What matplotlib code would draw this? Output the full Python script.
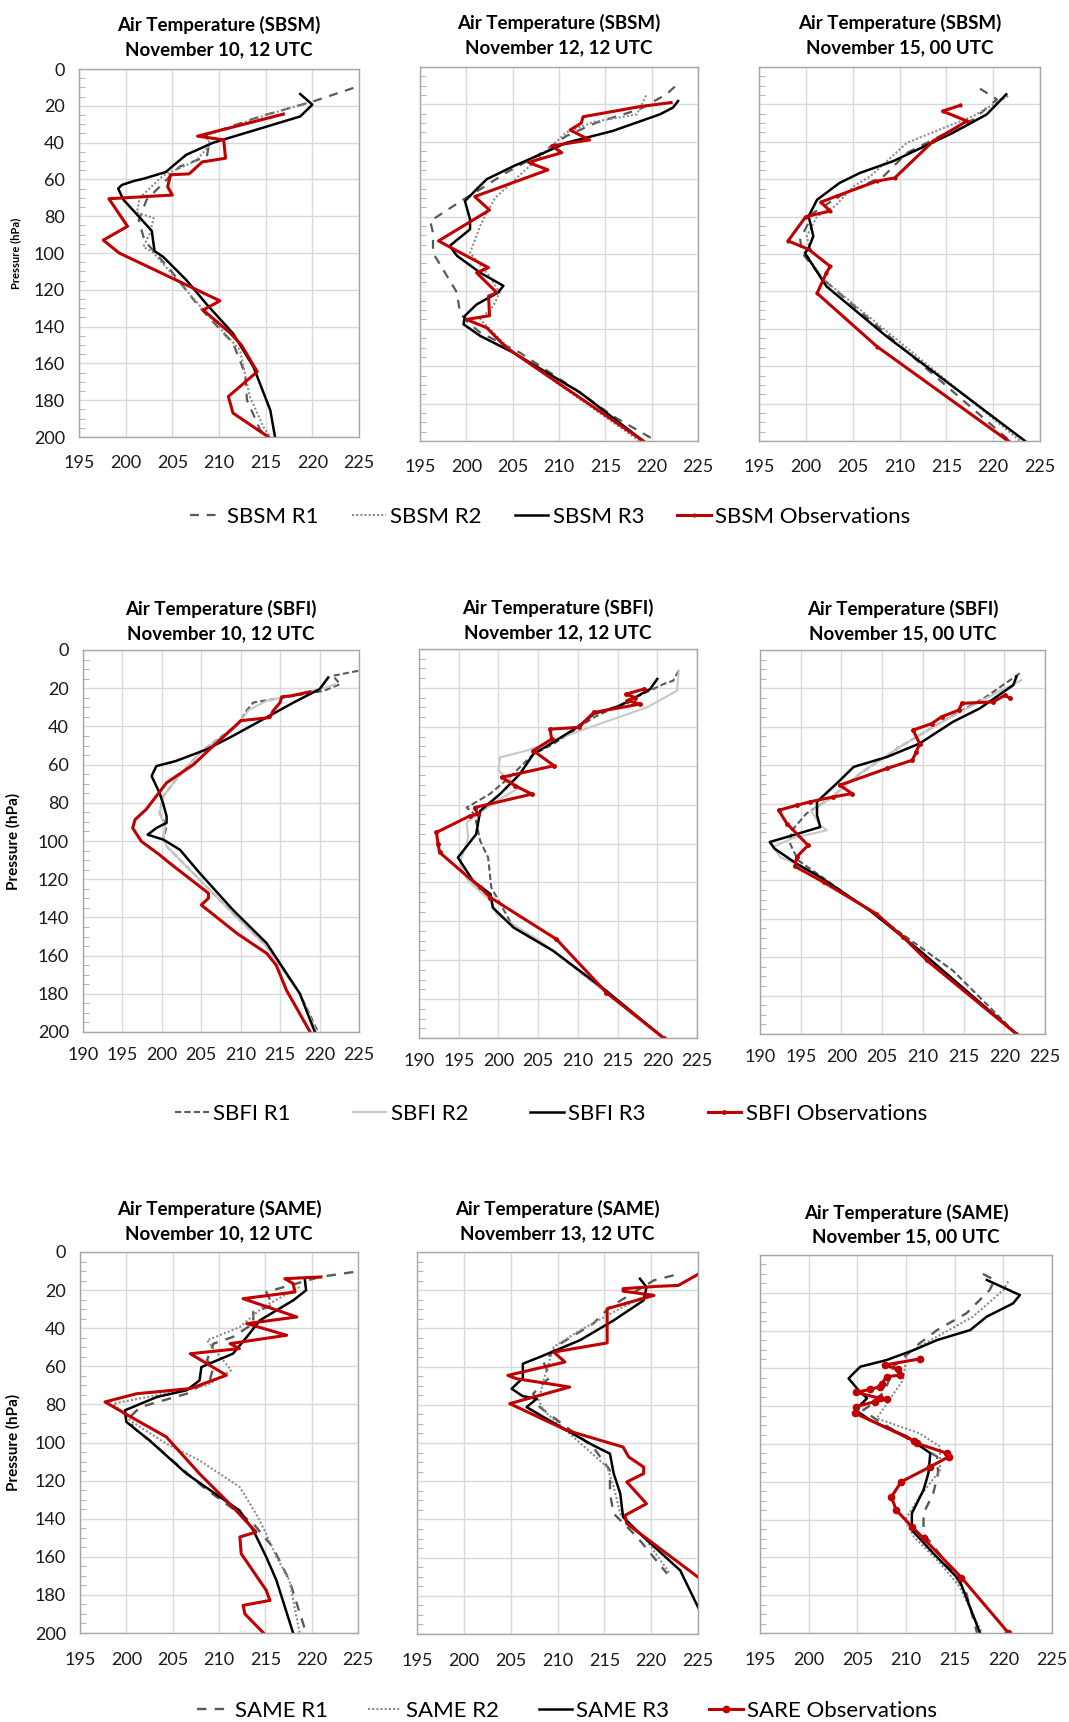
import matplotlib.pyplot as plt
from matplotlib.ticker import MultipleLocator

plt.rcParams['font.family'] = ['Lato', 'DejaVu Sans']

# ---------------- SBSM, November 10, 12 UTC ----------------
sbsm10_r1_t = [224.4, 220.1, 214.4, 208.7, 208.9, 208.7, 205.8, 203.3, 202.25, 201.4, 202.0, 203.0, 204.75, 208.0, 211.5, 212.8, 213.0, 214.4, 215.1]
sbsm10_r1_p = [10.3, 17.6, 25.8, 35.7, 42, 47.5, 53, 65.7, 71, 82, 93, 99, 109, 130, 149, 165.5, 180, 196, 200]
sbsm10_r2_t = [219.4, 215.1, 209.0, 208.9, 207.5, 204.0, 201.5, 201.2, 203.0, 202.6, 201.9, 203.0, 208.0, 212.25, 213.3, 214.75, 215.5]
sbsm10_r2_p = [18.5, 24.9, 35.5, 42, 50, 58, 70, 78, 81, 89.3, 96.6, 100, 129, 152.8, 178, 194.5, 200]
sbsm10_r3_t = [218.7, 220.0, 218.7, 209.4, 206.5, 205.5, 204.3, 202.0, 200.8, 199.6, 199.2, 199.75, 201.2, 202.8, 203.0, 203.1, 204.0, 206.5, 208.7, 211.5, 213.7, 215.5, 216.0]
sbsm10_r3_p = [13.6, 19.4, 25.8, 40, 46.6, 50.8, 56, 59.5, 61, 63, 65, 71, 79, 88, 95.6, 99, 102, 114.7, 128, 143.7, 162, 185.5, 200]
sbsm10_obs_t = [216.9, 207.7, 210.5, 210.7, 208.2, 206.8, 204.8, 204.5, 205.0, 198.2, 200.2, 197.6, 199.3, 210.1, 208.3, 211.2, 212.4, 214.1, 211.0, 211.5, 215.3]
sbsm10_obs_p = [24.5, 36.5, 38.5, 48.5, 50.5, 57, 57.5, 64, 68.5, 70.5, 85.5, 93, 100, 126, 131, 143.5, 150, 164.5, 178, 187, 200]

# ---------------- SBSM, November 12, 12 UTC ----------------
sbsm12_r1_t = [222.5, 221.6, 218.7, 214.0, 210.8, 207.6, 204.3, 201.5, 199.7, 196.1, 196.4, 196.4, 196.6, 199.0, 199.3, 200.2, 201.5, 205.8, 212.25, 215.8, 220.5]
sbsm12_r1_p = [10.5, 14.6, 22.6, 29.8, 36.9, 47.6, 56.5, 65.4, 70.8, 82.4, 88.6, 99.3, 101, 120.7, 131.4, 136.7, 142, 152.8, 174, 186.6, 200]
sbsm12_r2_t = [219.4, 218.4, 213.7, 210.8, 207.6, 203.1, 202.2, 201.5, 200.4, 202.5, 203.6, 202.9, 201.5, 205.1, 218.7]
sbsm12_r2_p = [15.2, 25.3, 29.4, 35, 49.4, 70, 78, 85, 99.3, 111.8, 120.7, 127.8, 135, 152.8, 200]
sbsm12_r3_t = [222.85, 222.3, 220.9, 215.8, 210.8, 207.6, 205.1, 202.2, 201.1, 199.85, 200.4, 200.4, 198.2, 199.0, 201.5, 204.0, 203.4, 201.1, 199.85, 199.7, 201.5, 205.1, 212.25, 219.1]
sbsm12_r3_p = [18.2, 21.7, 25.3, 34.2, 40.5, 47.6, 53, 60, 65.4, 71.7, 81.5, 86.8, 95.7, 101, 110, 117, 120.7, 127, 133, 137.6, 143.8, 152.8, 174, 200]
sbsm12_obs_t = [222.1, 218.7, 212.6, 212.4, 211.2, 213.3, 209.2, 210.3, 206.7, 208.8, 200.9, 202.5, 197.0, 198.0, 202.4, 201.1, 203.3, 202.4, 202.5, 200.0, 202.2, 204.3, 219.1]
sbsm12_obs_p = [19, 21.2, 26.6, 30, 33.7, 39, 42.2, 45.8, 51, 55, 69.3, 76.5, 93, 95.7, 107.3, 110, 120.7, 122.5, 133, 135, 139.4, 150, 200]

# ---------------- SBSM, November 15, 00 UTC ----------------
sbsm15_r1_t = [218.6, 220.4, 217.9, 210.8, 208.3, 203.6, 200.8, 199.4, 199.6, 201.9, 221.8]
sbsm15_r1_p = [11.6, 17.3, 28, 45.9, 58.4, 69, 78, 92.3, 99.5, 113.7, 200]
sbsm15_r2_t = [221.6, 217.9, 210.8, 206.9, 205.1, 203.1, 201.2, 200.1, 200.4, 199.9, 201.9, 222.9]
sbsm15_r2_p = [15.5, 26.2, 40.5, 58.4, 63.8, 74.5, 79.8, 90.5, 96.8, 99.5, 113.7, 200]
sbsm15_r3_t = [221.4, 219.3, 215.7, 209.3, 205.8, 203.6, 201.2, 200.3, 200.8, 200.3, 199.9, 202.2, 208.6, 223.4]
sbsm15_r3_p = [14.6, 25.4, 35.2, 50.4, 56.6, 62, 71, 79.8, 90.5, 96.8, 99.5, 117.3, 144, 200]
sbsm15_obs_t = [216.5, 214.6, 217.2, 213.6, 209.5, 207.6, 203.3, 201.6, 202.6, 200.0, 198.1, 200.3, 202.6, 202.2, 201.2, 207.6, 221.6]
sbsm15_obs_p = [20.5, 23.6, 28.9, 39.6, 59.3, 61, 69, 72.3, 77, 80, 93, 97.5, 106.6, 110, 121, 149.5, 200]

# ---------------- SBFI, November 10, 12 UTC ----------------
sbfi10_r1_t = [224.9, 221.7, 222.6, 220.5, 211.6, 210.7, 209.9, 204.8, 201.8, 200.2, 199.7, 200.6, 200.2, 200.6, 204.8, 209.0, 213.3, 217.5, 219.8]
sbfi10_r1_p = [10.9, 13.5, 17.9, 21.4, 27.5, 31.9, 38, 53.8, 67.8, 76.5, 85.3, 92.3, 98.4, 102.8, 120.3, 137.8, 155.3, 179.9, 200]
sbfi10_r2_t = [222.0, 220.0, 213.3, 211.0, 209.5, 204.8, 201.8, 200.2, 199.7, 200.4, 200.2, 200.6, 204.8, 209.0, 213.3, 217.5, 219.6]
sbfi10_r2_p = [18, 20.5, 26.6, 31.5, 39.8, 53.8, 67.8, 76.5, 85.3, 92.3, 98.4, 102.8, 120.3, 137.8, 155.3, 179.9, 200]
sbfi10_r3_t = [221.1, 220.0, 216.7, 209.0, 205.7, 201.8, 199.3, 198.7, 199.7, 200.2, 200.6, 200.6, 199.3, 198.2, 200.2, 202.3, 204.8, 209.0, 213.3, 217.5, 219.4]
sbfi10_r3_p = [14.4, 20.5, 27.5, 45, 52, 58.1, 60.8, 66, 74.8, 80.9, 87, 90.5, 93.2, 96.7, 99.3, 104.6, 116.8, 136, 153.6, 179.9, 200]
sbfi10_obs_t = [218.8, 216.4, 215.2, 215.0, 214.1, 213.7, 211.6, 210.0, 209.0, 206.5, 204.0, 200.6, 198.0, 196.6, 196.3, 197.4, 199.7, 201.0, 205.9, 205.9, 205.0, 209.5, 211.4, 213.3, 214.5, 215.8, 218.8]
sbfi10_obs_p = [21.9, 24, 24.5, 27.5, 31.9, 35.4, 36.3, 37, 41, 50.3, 60, 69.5, 83.5, 88.8, 93.2, 100.2, 107.2, 111.6, 127.3, 130, 133.5, 148.3, 153.6, 158.8, 165, 178.1, 200]

# ---------------- SBFI, November 12, 12 UTC ----------------
sbfi12_r1_t = [222.7, 222.0, 220.8, 212.0, 206.9, 204.4, 201.4, 198.9, 196.0, 197.0, 197.7, 198.7, 199.1, 201.9, 206.9, 220.8]
sbfi12_r1_p = [11.1, 16.3, 18, 35.2, 48.9, 54, 66, 74.6, 81.5, 85, 98.6, 107.2, 122.6, 143.2, 155.2, 200]
sbfi12_r2_t = [222.7, 222.5, 218.7, 210.3, 203.5, 200.2, 200.0, 202.7, 199.8, 196.0, 196.2, 195.1, 196.2, 199.0, 199.8, 205.2, 206.9, 220.8]
sbfi12_r2_p = [11.1, 21.4, 30, 42, 52.3, 55.7, 62.6, 71.2, 78, 89.2, 96.9, 110.6, 119.2, 129.5, 136.4, 150, 155.2, 200]
sbfi12_r3_t = [220.0, 219.1, 215.3, 212.0, 209.9, 206.5, 204.4, 202.7, 200.2, 197.7, 197.2, 194.9, 196.8, 199.0, 199.3, 201.9, 206.9, 213.6, 220.8]
sbfi12_r3_p = [15.4, 20.6, 29.2, 33.4, 40.3, 48.9, 54, 64.3, 74.6, 83.2, 95.2, 107.2, 119.2, 126, 133, 143.2, 155.2, 175.8, 200]
sbfi12_obs_t = [218.3, 216.1, 217.2, 216.2, 217.85, 212.0, 210.1, 206.5, 206.7, 204.4, 207.0, 200.4, 202.1, 204.2, 197.0, 197.4, 196.4, 192.2, 192.4, 192.6, 197.7, 199.0, 207.3, 213.6, 220.8]
sbfi12_obs_p = [20.6, 23.2, 25.0, 26.5, 28.3, 32.6, 40.3, 41.2, 46.3, 52.3, 60, 66, 70.3, 74.6, 81.5, 85, 85.8, 94.3, 100.3, 104.6, 122.6, 127.8, 149.2, 176.7, 200]

# ---------------- SBFI, November 15, 00 UTC ----------------
sbfi15_r1_t = [221.9, 217.8, 211.3, 207.2, 202.3, 198.6, 195.7, 193.9, 193.7, 194.7, 202.3, 213.7, 221.5]
sbfi15_r1_p = [12.2, 24.3, 40, 50.4, 64.3, 77.4, 85.2, 94, 100.9, 109.6, 132.2, 167, 200]
sbfi15_r2_t = [222.1, 217.8, 211.3, 207.2, 202.3, 198.6, 196.3, 197.4, 198.2, 194.0, 191.6, 192.5, 194.5, 197.4, 203.5, 209.6, 221.5]
sbfi15_r2_p = [15.7, 25, 40, 50.4, 64.3, 77.4, 84, 91.3, 93.9, 98, 102.6, 108, 111.3, 118.3, 135.7, 156.5, 200]
sbfi15_r3_t = [221.5, 221.1, 217.0, 213.7, 209.6, 205.6, 201.5, 199.4, 197.0, 197.0, 197.4, 193.3, 191.2, 191.8, 194.5, 197.4, 203.5, 209.6, 221.5]
sbfi15_r3_p = [13.9, 18.3, 30.4, 37.4, 48.7, 55.7, 60.9, 69.6, 79, 86, 92.2, 97.4, 100, 103.5, 111.3, 118.3, 135.7, 156.5, 200]
sbfi15_obs_t = [220.7, 220.1, 218.65, 214.8, 214.4, 212.3, 211.1, 208.8, 209.6, 209.2, 208.7, 205.6, 199.8, 201.3, 199.0, 196.1, 194.5, 192.3, 193.3, 195.9, 194.5, 194.3, 197.8, 204.3, 207.6, 210.5, 221.5]
sbfi15_obs_p = [25.2, 23.5, 27, 27.8, 31.3, 34.8, 38.3, 41.7, 48.7, 53, 57.4, 61.7, 70.4, 74.8, 76.5, 79.1, 80.9, 83.5, 90.4, 101.7, 107.8, 112.7, 120.9, 137.4, 149.6, 161.7, 200]

# ---------------- SAME, November 10, 12 UTC ----------------
same10_r1_t = [224.5, 220.9, 215.1, 215.8, 213.7, 213.7, 211.5, 209.4, 208.7, 209.4, 209.0, 206.5, 201.5, 200.4, 200.7, 202.5, 205.8, 208.3, 213.7, 215.8, 217.6, 219.4]
same10_r1_p = [10.5, 13.1, 21, 28, 31.5, 37.6, 44.6, 48.1, 56.9, 60.4, 67.4, 74.4, 81.4, 86.6, 91.9, 98.9, 112.9, 123.4, 142.6, 154.9, 172.4, 200]
same10_r2_t = [218.7, 214.75, 212.25, 208.7, 211.3, 208.7, 198.6, 200.4, 204.3, 207.9, 212.25, 214.0, 215.1, 216.2, 217.6, 218.7]
same10_r2_p = [18.4, 28.9, 39.4, 46.4, 62, 70, 79.6, 88.4, 100.6, 109.4, 123.4, 137.4, 147.9, 160.1, 172.4, 200]
same10_r3_t = [219.25, 219.4, 218.0, 214.4, 213.0, 211.5, 209.4, 208.1, 207.9, 206.5, 203.3, 199.85, 200.0, 202.5, 206.5, 210.1, 212.2, 213.7, 215.1, 216.2, 218.0]
same10_r3_p = [14, 20.1, 25.4, 35.9, 44.6, 53.4, 57.7, 60.4, 67.4, 72.6, 76.1, 83.1, 89.2, 98.9, 116.4, 128.6, 135.6, 146.1, 160.1, 172.4, 200]
same10_obs_t = [221.0, 217.1, 218.0, 218.2, 212.6, 218.4, 213.0, 217.3, 211.2, 212.2, 206.9, 210.8, 206.9, 201.1, 197.7, 201.0, 204.3, 207.9, 211.5, 214.0, 212.25, 212.4, 215.1, 215.5, 212.6, 212.8, 214.8]
same10_obs_p = [13.1, 14, 16.6, 21, 24.5, 34.1, 37.6, 43.7, 48.1, 50.7, 53.4, 64.7, 71.7, 74.4, 78.7, 88, 97, 116.4, 133.9, 147, 149.6, 158.4, 177.6, 182.9, 185.5, 190, 200]

# ---------------- SAME, November 13, 12 UTC ----------------
same13_r1_t = [222.4, 220.3, 215.6, 213.8, 210.3, 208.5, 209.2, 207.4, 208.1, 213.8, 215.6, 215.6, 216.0, 218.5, 221.7]
same13_r1_p = [12.2, 14.8, 28.8, 37.5, 48, 57.6, 65.4, 74.2, 81.2, 102.1, 114.3, 126.5, 137, 149.2, 168.4]
same13_r2_t = [219.3, 216.0, 212.4, 209.6, 208.5, 208.0, 208.5, 215.3, 216.0, 216.7, 219.5, 222.0]
same13_r2_p = [23, 31.4, 41, 49.7, 67.2, 77.7, 82.9, 112.6, 123, 137, 151, 168.4]
same13_r3_t = [218.8, 219.5, 219.2, 216.0, 212.4, 208.1, 206.3, 206.3, 205.1, 206.3, 207.8, 206.7, 208.5, 213.8, 215.6, 216.0, 216.7, 217.0, 218.8, 223.1, 225.0, 226.0]
same13_r3_p = [14, 18.3, 25.3, 35.8, 46.2, 55, 58.5, 66, 71.6, 75.5, 76.8, 81.2, 86.4, 101.2, 105.6, 116, 126.5, 138.7, 147.5, 166.7, 185.9, 195]
same13_obs_t = [226.5, 225.0, 222.9, 220.6, 217.0, 217.0, 220.3, 215.3, 215.3, 209.6, 210.8, 204.7, 205.6, 211.3, 204.9, 211.0, 217.0, 217.6, 219.2, 219.2, 217.4, 219.5, 217.2, 217.4, 226.0]
same13_obs_p = [7.6, 11.7, 17.5, 18, 19.2, 20.5, 22.7, 29.7, 47.6, 52.4, 57.6, 64.6, 66.3, 70.7, 79.4, 93.4, 102.1, 107.3, 112.6, 116, 120.4, 131.8, 137.9, 142.2, 173.9]

# ---------------- SAME, November 15, 00 UTC ----------------
same15_r1_t = [217.9, 219.1, 218.6, 216.2, 213.2, 211.4, 208.7, 208.0, 207.0, 205.6, 207.0, 210.4, 213.2, 213.3, 212.8, 211.8, 211.8, 214.2, 216.2, 217.3]
same15_r1_p = [10, 13.2, 18.5, 30.9, 39.7, 46.7, 59.1, 69.7, 77.4, 82, 87.3, 97.9, 106.7, 115.5, 126.1, 136.7, 147.3, 163.1, 179, 200]
same15_r2_t = [220.5, 220.0, 216.9, 210.1, 209.7, 207.0, 211.4, 213.5, 213.5, 211.4, 209.9, 210.8, 213.5, 215.5, 217.8]
same15_r2_p = [14, 18.5, 32.6, 52, 66.1, 86.4, 94.4, 101.4, 113.8, 127.9, 140.2, 149, 163.1, 175.5, 200]
same15_r3_t = [218.3, 221.7, 221.0, 218.3, 216.6, 213.2, 210.8, 208.0, 205.3, 204.1, 205.1, 206.0, 204.8, 206.3, 210.1, 212.5, 212.3, 211.8, 210.6, 210.6, 212.8, 215.5, 217.6]
same15_r3_p = [13.2, 21.2, 25.6, 32.6, 39.7, 45, 50.3, 55.6, 59.1, 65.3, 71.4, 75.8, 82, 87.3, 96.1, 104.9, 115.5, 124.3, 136.7, 145.5, 157.8, 172, 200]
same15_obs_t = [211.4, 207.8, 209.2, 209.4, 208.0, 207.5, 207.3, 206.3, 204.9, 207.3, 208.0, 206.8, 204.9, 204.8, 210.8, 211.1, 214.2, 214.4, 212.5, 209.5, 208.5, 209.0, 210.6, 211.8, 215.7, 220.5]
same15_obs_p = [55, 58.2, 60.5, 63.5, 64.4, 68.3, 69.7, 71.1, 72.7, 75.8, 76.2, 77.6, 80.2, 83.8, 98.2, 99.6, 104.9, 106.7, 112, 120, 128, 135, 143.7, 149.9, 170.7, 199.8]

stations = ['SBSM', 'SBFI', 'SAME']
obs_names = ['SBSM Observations', 'SBFI Observations', 'SARE Observations']
dates = [['November 10, 12 UTC', 'November 12, 12 UTC', 'November 15, 00 UTC'],
         ['November 10, 12 UTC', 'November 12, 12 UTC', 'November 15, 00 UTC'],
         ['November 10, 12 UTC', 'Novemberr 13, 12 UTC', 'November 15, 00 UTC']]
x_min = [195, 190, 195]

panels = [
    [(sbsm10_r1_t, sbsm10_r1_p, sbsm10_r2_t, sbsm10_r2_p, sbsm10_r3_t, sbsm10_r3_p, sbsm10_obs_t, sbsm10_obs_p),
     (sbsm12_r1_t, sbsm12_r1_p, sbsm12_r2_t, sbsm12_r2_p, sbsm12_r3_t, sbsm12_r3_p, sbsm12_obs_t, sbsm12_obs_p),
     (sbsm15_r1_t, sbsm15_r1_p, sbsm15_r2_t, sbsm15_r2_p, sbsm15_r3_t, sbsm15_r3_p, sbsm15_obs_t, sbsm15_obs_p)],
    [(sbfi10_r1_t, sbfi10_r1_p, sbfi10_r2_t, sbfi10_r2_p, sbfi10_r3_t, sbfi10_r3_p, sbfi10_obs_t, sbfi10_obs_p),
     (sbfi12_r1_t, sbfi12_r1_p, sbfi12_r2_t, sbfi12_r2_p, sbfi12_r3_t, sbfi12_r3_p, sbfi12_obs_t, sbfi12_obs_p),
     (sbfi15_r1_t, sbfi15_r1_p, sbfi15_r2_t, sbfi15_r2_p, sbfi15_r3_t, sbfi15_r3_p, sbfi15_obs_t, sbfi15_obs_p)],
    [(same10_r1_t, same10_r1_p, same10_r2_t, same10_r2_p, same10_r3_t, same10_r3_p, same10_obs_t, same10_obs_p),
     (same13_r1_t, same13_r1_p, same13_r2_t, same13_r2_p, same13_r3_t, same13_r3_p, same13_obs_t, same13_obs_p),
     (same15_r1_t, same15_r1_p, same15_r2_t, same15_r2_p, same15_r3_t, same15_r3_p, same15_obs_t, same15_obs_p)],
]

# axes boxes in pixels: left, top, right, bottom
boxes = [[(79, 69, 359, 437), (420, 67, 698, 441), (759, 67, 1040, 441)],
         [(83, 650, 359, 1032), (419, 649, 697, 1038), (760, 650, 1045, 1034)],
         [(80, 1252, 358, 1633), (417, 1252, 698, 1634), (760, 1255, 1052, 1633)]]

W, H = 1069, 1722
fig = plt.figure(figsize=(W / 100, H / 100), dpi=100)

r1_styles = [dict(color='#595959', ls=(0, (4, 3.5)), lw=1.6),
             dict(color='#595959', ls=(0, (3, 1.5)), lw=1.5),
             dict(color='#595959', ls=(0, (4, 3.5)), lw=1.7)]
r2_styles = [dict(color='#8c8c8c', ls=(0, (1, 1)), lw=1.5),
             dict(color='#c8c8c8', ls='-', lw=1.5),
             dict(color='#8c8c8c', ls=(0, (1, 1)), lw=1.5)]
obs_ms = [[0, 0, 2], [0, 2.5, 2.5], [0, 0, 4.5]]
title_pads = [10, 8, 9]
xpads = [13, 11, 14]
ylabel_sizes = [8, 11, 11]
legend_y = [517, 1114, 1711]
legend_x = [550, 551, 567]
legend_gap = [1.5, 2.8, 1.8]

for row in range(3):
    for col in range(3):
        l, t, r, b = boxes[row][col]
        ax = fig.add_axes([l / W, 1 - b / H, (r - l) / W, (b - t) / H])
        r1t, r1p, r2t, r2p, r3t, r3p, ot, op = panels[row][col]
        ax.plot(r1t, r1p, label=stations[row] + ' R1', **r1_styles[row])
        ax.plot(r2t, r2p, label=stations[row] + ' R2', **r2_styles[row])
        ax.plot(r3t, r3p, color='black', lw=1.8, label=stations[row] + ' R3')
        ms = obs_ms[row][col]
        ax.plot(ot, op, color='#c00000', lw=2.2, label=obs_names[row],
                marker='o' if ms > 0 else None, markersize=ms)
        ax.set_xlim(x_min[row], 225)
        ax.set_ylim(200, 0)
        ax.xaxis.set_major_locator(MultipleLocator(5))
        ax.yaxis.set_major_locator(MultipleLocator(20))
        ax.yaxis.set_minor_locator(MultipleLocator(5))
        ax.grid(True, which='major', color='#d9d9d9', lw=1.0)
        ax.set_axisbelow(True)
        for s in ax.spines.values():
            s.set_color('#a6a6a6')
            s.set_linewidth(1.0)
        ax.tick_params(which='major', length=0, labelsize=13, colors='#1a1a1a')
        ax.tick_params(axis='x', pad=xpads[row])
        ax.tick_params(axis='y', pad=10)
        ax.tick_params(axis='y', which='minor', direction='in', length=4, color='#a6a6a6')
        ax.tick_params(axis='x', which='minor', length=0)
        if col == 0:
            ax.set_ylabel('Pressure (hPa)', fontsize=ylabel_sizes[row], fontweight='bold')
            ax.yaxis.set_label_coords((21 - l) / (r - l), 0.5)
        else:
            ax.set_yticklabels([])
        ax.set_title('Air Temperature (%s)\n%s' % (stations[row], dates[row][col]),
                     fontsize=13.5, fontweight='bold', pad=title_pads[row], linespacing=1.5)
        if col == 2:
            handles, labels = ax.get_legend_handles_labels()
            fig.legend(handles, labels, loc='center', ncol=4, frameon=False,
                       bbox_to_anchor=(legend_x[row] / W, 1 - legend_y[row] / H),
                       fontsize=16, handlelength=1.5, handletextpad=0.2,
                       columnspacing=legend_gap[row], borderpad=0)

fig.savefig('out.png', dpi=100)
